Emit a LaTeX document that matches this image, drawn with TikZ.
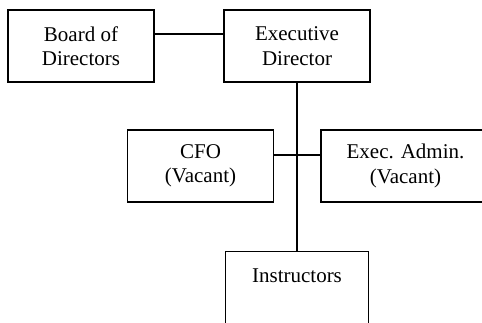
\documentclass[tikz,border=0pt]{standalone}
\usepackage{fontspec}
\setmainfont{Liberation Serif}
\usepackage{tikz}

\begin{document}
\begin{tikzpicture}[x=1pt,y=-1pt,line width=1.3pt,
  box/.style={rectangle,draw,align=center,inner sep=0pt,
    minimum width=146pt,minimum height=72pt,
    font=\fontsize{21}{24.5}\selectfont}]
  \useasboundingbox (0,0) rectangle (482,322);
  \clip (0,0) rectangle (482,322);
  \node [box] (board) at (81,46) {Board of\\Directors};
  \node [box] (exec) at (297,46) {Executive\\Director};
  \node [box] (cfo) at (200.5,166) {CFO\\(Vacant)};
  \node [box,minimum width=169pt] (admin) at (405.5,166) {Exec. Admin.\\(Vacant)};
  \node [box,anchor=north,minimum width=143pt,minimum height=0pt,
    inner ysep=17pt,text height=14pt,text depth=80pt] (instr) at (297,251) {Instructors};
  \draw ([yshift=12pt]board.east) -- ([yshift=12pt]exec.west);
  \draw ([yshift=11pt]cfo.east) -- ([yshift=11pt]admin.west);
  \draw (exec.south) -- (instr.north);
\end{tikzpicture}
\end{document}
